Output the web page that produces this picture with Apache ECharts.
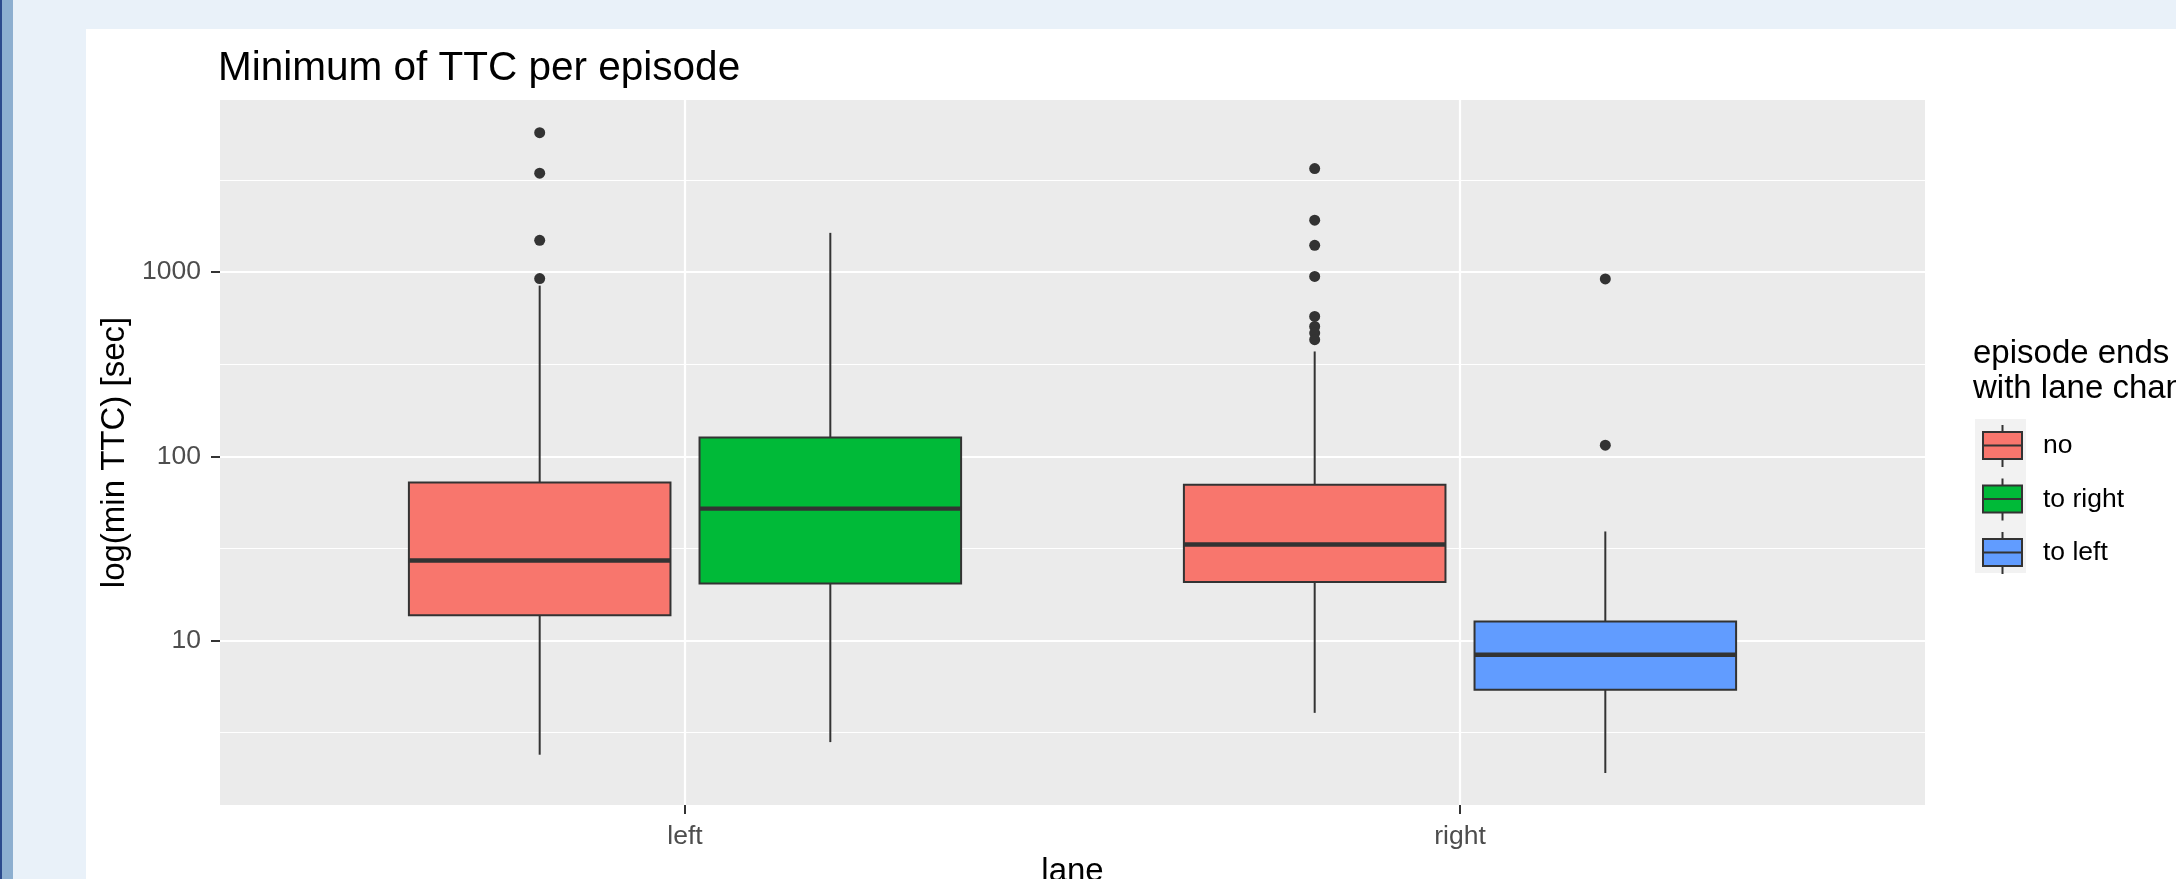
<!DOCTYPE html>
<html>
<head>
<meta charset="utf-8">
<script src="https://cdn.jsdelivr.net/npm/echarts@6.0.0/dist/echarts.min.js"></script>
<style>
  html, body { margin: 0; padding: 0; width: 2176px; height: 879px; overflow: hidden; background: #E9F1F9; }
  .edgeDark { position: absolute; left: 0; top: 0; width: 2px; height: 879px; background: #2C4A8C; }
  .edgeMid { position: absolute; left: 2px; top: 0; width: 11px; height: 879px; background: #8DAFD0; }
  #chart { position: absolute; left: 86px; top: 29px; width: 2090px; height: 850px; background: #FFFFFF; }
</style>
</head>
<body>
<div class="edgeDark"></div>
<div class="edgeMid"></div>
<div id="chart"></div>
<script>
// categories
const lanes = ['left', 'right'];
const groups = ['no', 'to right', 'to left'];

// box stats per lane: [lower whisker, Q1, median, Q3, upper whisker]  (TTC in sec)
const noLane = [0, 1];
const noStats = [[2.40, 13.7, 27.2, 72.1, 845], [4.05, 20.8, 33.2, 70.0, 371]];
const noOutliers = [[5715, 3443, 1489, 923], [3648, 1914, 1399, 948, 575, 507, 467, 430]];

const toRightLane = [0];
const toRightStats = [[2.81, 20.4, 52.0, 126.5, 1634]];
const toRightOutliers = [[]];

const toLeftLane = [1];
const toLeftStats = [[1.91, 5.41, 8.37, 12.7, 39.1]];
const toLeftOutliers = [[918, 115]];

// y axis (log scale)
const yTicks = [10, 100, 1000];
const yMinorTicks = [3.1623, 31.623, 316.23, 3162.3];
const yLimits = [1.28, 8600];

const fontFamily = "'Liberation Sans', Arial, Helvetica, sans-serif";
const colors = { 'no': '#F8766D', 'to right': '#00BA38', 'to left': '#619CFF' };
const dodge = 0.1875;     // half of dodge width 0.75
const boxWidth = 0.3375;  // 0.9 * 0.75 / 2

const lg = Math.log10;

function boxData(laneIdx, stats, offset) {
  return stats.map((s, i) => [laneIdx[i] + 1 + offset].concat(s.map(lg)));
}
function outlierData(laneIdx, outs, offset) {
  let res = [];
  outs.forEach((arr, i) => {
    arr.forEach(v => res.push([laneIdx[i] + 1 + offset, lg(v)]));
  });
  return res;
}

function renderBox(params, api) {
  const x = api.value(0);
  const lo = api.coord([x, api.value(1)]);
  const q1 = api.coord([x, api.value(2)]);
  const med = api.coord([x, api.value(3)]);
  const q3 = api.coord([x, api.value(4)]);
  const hi = api.coord([x, api.value(5)]);
  const half = api.size([boxWidth, 0])[0] / 2;
  const line = { stroke: '#333333', lineWidth: 2 };
  return {
    type: 'group',
    children: [
      { type: 'line', shape: { x1: lo[0], y1: lo[1], x2: q1[0], y2: q1[1] }, style: line },
      { type: 'line', shape: { x1: q3[0], y1: q3[1], x2: hi[0], y2: hi[1] }, style: line },
      {
        type: 'rect',
        shape: { x: q3[0] - half, y: q3[1], width: half * 2, height: q1[1] - q3[1] },
        style: { fill: api.visual('color'), stroke: '#333333', lineWidth: 2 }
      },
      {
        type: 'line',
        shape: { x1: med[0] - half, y1: med[1], x2: med[0] + half, y2: med[1] },
        style: { stroke: '#333333', lineWidth: 4.4 }
      }
    ]
  };
}

function boxSeries(name, data) {
  return {
    name: name,
    type: 'custom',
    renderItem: renderBox,
    itemStyle: { color: colors[name] },
    encode: { x: 0, y: [1, 2, 3, 4, 5] },
    data: data,
    z: 3
  };
}
function dotSeries(data) {
  return {
    name: 'outliers',
    type: 'scatter',
    symbolSize: 11,
    itemStyle: { color: '#333333', opacity: 1 },
    data: data,
    z: 4
  };
}

// key glyph: whiskers + box + median; the two leading moveTo points widen the bbox so the glyph sits centred
const legendIcon = 'path://M-16,0M55,42M19.5,0L19.5,7M0,7L39,7L39,34L0,34ZM0,20.5L39,20.5M19.5,34L19.5,42';

const chart = echarts.init(document.getElementById('chart'), null, { renderer: 'canvas' });
const option = {
  animation: false,
  backgroundColor: '#FFFFFF',
  textStyle: { fontFamily: fontFamily },
  title: [
    {
      text: 'Minimum of TTC per episode',
      left: 132, top: 19, padding: 0,
      textStyle: { fontSize: 40.5, fontWeight: 'normal', color: '#000000', fontFamily: fontFamily }
    },
    {
      text: 'episode ends\nwith lane change',
      left: 1887, top: 307, padding: 0,
      textStyle: { fontSize: 33, fontWeight: 'normal', color: '#000000', lineHeight: 35, fontFamily: fontFamily }
    }
  ],
  graphic: [
    // legend key background
    { type: 'rect', left: 1889, top: 390, shape: { width: 51, height: 154 }, style: { fill: '#F2F2F2' }, z: -1 }
  ],
  legend: {
    orient: 'vertical',
    left: 1880, top: 395, padding: 0,
    itemWidth: 71, itemHeight: 42, itemGap: 9.5,
    icon: legendIcon,
    selectedMode: false,
    itemStyle: { borderColor: '#333333', borderWidth: 2 },
    textStyle: { fontSize: 26.5, color: '#000000', fontFamily: fontFamily },
    data: groups
  },
  grid: {
    left: 134, top: 71, right: 251, bottom: 74,
    containLabel: false,
    outerBoundsMode: 'none',
    show: true, backgroundColor: '#EBEBEB', borderWidth: 0
  },
  xAxis: {
    type: 'value',
    min: 0.4, max: 2.6,
    name: 'lane',
    nameLocation: 'middle',
    nameGap: 50,
    nameTextStyle: { fontSize: 33, color: '#000000', fontFamily: fontFamily },
    axisLine: { show: false },
    axisTick: { show: true, customValues: [1, 2], length: 9, lineStyle: { color: '#333333', width: 2 } },
    axisLabel: {
      customValues: [1, 2],
      formatter: v => lanes[Math.round(v) - 1],
      margin: 18, fontSize: 26.5, color: '#4D4D4D', fontFamily: fontFamily
    },
    splitLine: { show: true, lineStyle: { color: '#FFFFFF', width: 2.2 } }
  },
  yAxis: [
    {
      type: 'value',
      min: lg(yLimits[0]), max: lg(yLimits[1]),
      name: 'log(min TTC) [sec]',
      nameLocation: 'middle',
      nameRotate: 90,
      nameGap: 73,
      nameTextStyle: { fontSize: 33, color: '#000000', fontFamily: fontFamily },
      axisLine: { show: false },
      axisTick: { show: true, customValues: yTicks.map(lg), length: 9, lineStyle: { color: '#333333', width: 2 } },
      axisLabel: {
        customValues: yTicks.map(lg),
        formatter: v => String(Math.round(Math.pow(10, v))),
        margin: 19, fontSize: 26.5, color: '#4D4D4D', fontFamily: fontFamily
      },
      splitLine: { show: true, lineStyle: { color: '#FFFFFF', width: 2.2 } }
    },
    {
      type: 'value',
      position: 'left',
      min: lg(yLimits[0]), max: lg(yLimits[1]),
      axisLine: { show: false },
      axisTick: { show: false, customValues: yMinorTicks.map(lg) },
      axisLabel: { show: false },
      splitLine: { show: true, lineStyle: { color: '#FFFFFF', width: 1.1 } }
    }
  ],
  series: [
    boxSeries('no', boxData(noLane, noStats, -dodge)),
    boxSeries('to right', boxData(toRightLane, toRightStats, dodge)),
    boxSeries('to left', boxData(toLeftLane, toLeftStats, dodge)),
    dotSeries(outlierData(noLane, noOutliers, -dodge)
      .concat(outlierData(toRightLane, toRightOutliers, dodge))
      .concat(outlierData(toLeftLane, toLeftOutliers, dodge)))
  ]
};
chart.setOption(option);
</script>
</body>
</html>
